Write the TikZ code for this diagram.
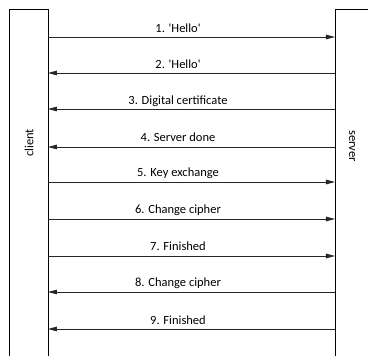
\documentclass[tikz,border=0pt]{standalone}
\usepackage{fontspec}
\setmainfont{Carlito}
\usetikzlibrary{arrows.meta}
\begin{document}
\begin{tikzpicture}[x=1pt,y=-1pt,
  line width=0.8pt,
  msg/.style={draw=black!85, -{Triangle[length=9pt,width=4.6pt]}},
  lbl/.style={font=\fontsize{12.5}{14}\selectfont, inner sep=0pt, anchor=base, yshift=5pt},
  actor/.style={font=\fontsize{12.5}{14}\selectfont, inner sep=0pt}]
\useasboundingbox (0,0) rectangle (368,356);
\clip (0,0) rectangle (368,356);
% lifeline boxes
\draw (9,360) -- (9,9) -- (48,9) -- (48,360);
\draw (335,360) -- (335,9) -- (370,9);
\node[actor, rotate=90] (client) at (29,143) {client};
\node[actor, rotate=-90] (server) at (352,146) {server};
% endpoints
\foreach \i/\y in {1/37,2/73,3/109,4/147,5/182,6/219,7/256,8/292,9/329}{
  \coordinate (c\i) at (48,\y);
  \coordinate (s\i) at (335,\y);
}
\draw[msg] (c1) -- (s1) node[lbl, pos=0.453] (l1) {1. \textquotesingle Hello\textquotesingle};
\draw[msg] (s2) -- (c2) node[lbl, pos=0.547] (l2) {2. \textquotesingle Hello\textquotesingle};
\draw[msg] (s3) -- (c3) node[lbl, pos=0.547] (l3) {3. Digital certificate};
\draw[msg] (s4) -- (c4) node[lbl, pos=0.547] (l4) {4. Server done};
\draw[msg] (c5) -- (s5) node[lbl, pos=0.453] (l5) {5. Key exchange};
\draw[msg] (c6) -- (s6) node[lbl, pos=0.453] (l6) {6. Change cipher};
\draw[msg] (c7) -- (s7) node[lbl, pos=0.453] (l7) {7. Finished};
\draw[msg] (s8) -- (c8) node[lbl, pos=0.547] (l8) {8. Change cipher};
\draw[msg] (s9) -- (c9) node[lbl, pos=0.547] (l9) {9. Finished};
\end{tikzpicture}
\end{document}
